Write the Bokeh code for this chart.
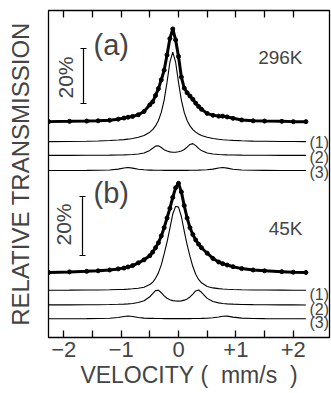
import math
from bokeh.plotting import figure
from bokeh.models import Range1d, LinearAxis, FixedTicker, Label
from bokeh.embed import file_html
from bokeh.resources import INLINE

# ---------------- data (absorption depths in %) ----------------
velocity = [-2.26, -1.9, -1.6, -1.4, -1.2, -1.05, -0.95, -0.88, -0.8, -0.7, -0.6, -0.5, -0.45, -0.4,
            -0.35, -0.3, -0.25, -0.2, -0.15, -0.1, -0.05, 0.0, 0.05, 0.1, 0.15, 0.2, 0.25, 0.3, 0.35,
            0.4, 0.5, 0.6, 0.7, 0.77, 0.85, 0.95, 1.1, 1.3, 1.5, 1.8, 2.0, 2.22]

# (a) 296 K
a_data = [0.3, 0.4, 0.5, 0.6, 0.8, 1.2, 1.6, 1.9, 2.2, 2.8, 4.0, 6.4, 7.5, 9.8, 12.3, 15.5, 19.0, 24.5,
          30.5, 34.0, 30.0, 24.0, 16.5, 12.5, 10.8, 9.6, 8.4, 7.0, 5.8, 4.8, 3.3, 2.6, 2.3, 2.3, 2.0,
          1.5, 0.9, 0.6, 0.5, 0.4, 0.3, 0.3]
a_sub1 = [0.14, 0.20, 0.28, 0.38, 0.52, 0.70, 0.86, 1.02, 1.26, 1.69, 2.38, 3.57, 4.51, 5.85, 7.80,
          10.76, 15.22, 21.66, 29.0, 32.7, 29.0, 21.66, 15.22, 10.76, 7.80, 5.85, 4.51, 3.57, 2.89,
          2.38, 1.69, 1.26, 0.97, 0.83, 0.70, 0.57, 0.44, 0.32, 0.25, 0.18, 0.15, 0.12]
a_sub2 = [0.03, 0.04, 0.06, 0.08, 0.12, 0.16, 0.21, 0.26, 0.35, 0.54, 0.92, 1.83, 2.61, 3.40, 3.51,
          2.87, 2.11, 1.59, 1.30, 1.18, 1.18, 1.33, 1.64, 2.18, 3.04, 4.01, 4.31, 3.58, 2.56, 1.76,
          0.91, 0.55, 0.36, 0.28, 0.22, 0.17, 0.12, 0.08, 0.06, 0.04, 0.03, 0.02]
a_sub3 = [0.02, 0.03, 0.06, 0.10, 0.23, 0.53, 0.93, 1.11, 0.89, 0.49, 0.28, 0.18, 0.15, 0.13, 0.11,
          0.10, 0.09, 0.09, 0.08, 0.08, 0.08, 0.08, 0.08, 0.09, 0.09, 0.10, 0.12, 0.14, 0.16, 0.19,
          0.28, 0.53, 0.93, 1.11, 0.89, 0.49, 0.22, 0.10, 0.06, 0.03, 0.02, 0.02]

# (b) 45 K
b_data = [0.2, 0.4, 0.6, 0.8, 1.1, 1.5, 1.8, 2.2, 2.7, 3.7, 4.8, 6.3, 7.6, 9.2, 11.0, 13.5, 16.5, 20.0,
          23.5, 27.5, 31.0, 32.6, 29.5, 24.5, 20.0, 16.5, 14.0, 12.0, 10.5, 9.2, 7.2, 5.3, 4.0, 3.4,
          2.9, 2.3, 1.6, 1.1, 0.8, 0.5, 0.3, 0.2]
b_sub1 = [0.08, 0.11, 0.15, 0.19, 0.25, 0.34, 0.40, 0.49, 0.62, 0.80, 1.17, 2.13, 3.0, 4.42, 6.4, 9.3,
          13.3, 17.6, 22.6, 27.8, 30.6, 30.3, 26.9, 21.6, 16.7, 12.4, 8.7, 5.9, 4.0, 2.8, 1.42, 0.93,
          0.68, 0.56, 0.46, 0.37, 0.28, 0.20, 0.15, 0.11, 0.09, 0.08]
b_sub2 = [0.05, 0.07, 0.10, 0.13, 0.19, 0.27, 0.35, 0.44, 0.59, 0.90, 1.55, 2.99, 4.15, 5.25, 5.41,
          4.48, 3.33, 2.47, 1.93, 1.61, 1.46, 1.43, 1.53, 1.78, 2.23, 2.95, 4.01, 5.12, 5.46, 4.65,
          2.43, 1.30, 0.79, 0.59, 0.44, 0.32, 0.22, 0.15, 0.11, 0.07, 0.06, 0.04]
b_sub3 = [0.02, 0.03, 0.05, 0.09, 0.21, 0.48, 0.85, 1.01, 0.81, 0.45, 0.26, 0.16, 0.14, 0.12, 0.10,
          0.09, 0.08, 0.08, 0.07, 0.07, 0.07, 0.07, 0.07, 0.07, 0.08, 0.08, 0.09, 0.10, 0.12, 0.14,
          0.21, 0.36, 0.65, 0.92, 0.97, 0.61, 0.25, 0.11, 0.06, 0.03, 0.02, 0.02]

tick_values = [-2, -1.5, -1, -0.5, 0, 0.5, 1, 1.5, 2]
tick_labels = {-2: "\u22122", -1.5: "", -1: "\u22121", -0.5: "", 0: "0", 0.5: "", 1: "+1", 1.5: "", 2: "+2"}
component_names = ["(1)", "(2)", "(3)"]

# vertical offsets (baselines) of the stacked spectra, in % units
base_a = [78.2, 71.1, 66.2, 60.7]
base_b = [23.45, 17.1, 11.8, 6.8]

FONT = "Liberation Sans"
NB = "\u00a0"

# helpers converting picture pixel positions to data coords (for annotation placement)
def vx(px):
    return (px - 178.0) / 57.4

def vy(py):
    return (337.0 - py) / 2.75

p = figure(width=331, height=393, x_range=Range1d(vx(48), vx(329)), y_range=Range1d(vy(337), vy(10)),
           output_backend="svg", toolbar_location=None,
           min_border_left=48, min_border_right=2, min_border_top=10, min_border_bottom=56)
p.grid.visible = False
p.outline_line_color = "black"
p.outline_line_width = 1.3
p.background_fill_color = "white"
p.border_fill_color = "white"

# bottom axis
xa = p.xaxis[0]
xa.ticker = FixedTicker(ticks=tick_values)
xa.major_label_overrides = tick_labels
xa.major_tick_in = 7
xa.major_tick_out = 0
xa.minor_tick_line_color = None
xa.axis_line_color = None
xa.major_tick_line_width = 1.3
xa.major_label_text_font = FONT
xa.major_label_text_font_size = "22px"
xa.major_label_standoff = 4
xa.axis_label = "VELOCITY" + NB + "(" + NB + NB + "mm/s" + NB + NB + ")"
xa.axis_label_text_font = FONT
xa.axis_label_text_font_style = "normal"
xa.axis_label_text_font_size = "23px"
xa.axis_label_standoff = 2

# top axis (ticks only)
top = LinearAxis(ticker=FixedTicker(ticks=tick_values), major_tick_in=7, major_tick_out=0,
                 minor_tick_line_color=None, axis_line_color=None, major_tick_line_width=1.3,
                 major_label_overrides={t: "" for t in tick_values}, major_label_standoff=0)
p.add_layout(top, "above")

# left axis (label only)
ya = p.yaxis[0]
ya.ticker = FixedTicker(ticks=[])
ya.axis_line_color = None
ya.major_tick_line_color = None
ya.minor_tick_line_color = None
ya.major_label_standoff = 0
ya.axis_label = "RELATIVE TRANSMISSION"
ya.axis_label_text_font = FONT
ya.axis_label_text_font_style = "normal"
ya.axis_label_text_font_size = "24px"
ya.axis_label_standoff = 15

# ---- curves (absorption plotted upward from each baseline) ----
def draw(depths, base, data=False):
    ys = [base + d for d in depths]
    if data:
        p.line(velocity, ys, line_color="black", line_width=3.0)
        p.scatter(velocity, ys, size=4, color="black")
    else:
        p.line(velocity, ys, line_color="black", line_width=1.1)

draw(a_data, base_a[0], True)
for sub, b in zip([a_sub1, a_sub2, a_sub3], base_a[1:]):
    draw(sub, b)
draw(b_data, base_b[0], True)
for sub, b in zip([b_sub1, b_sub2, b_sub3], base_b[1:]):
    draw(sub, b)

# component labels
for name, py in zip(component_names, [142, 157, 172]):
    p.add_layout(Label(x=vx(309), y=vy(py), text=name, text_font=FONT, text_font_size="16px",
                       text_baseline="middle", text_align="left"))
for name, py in zip(component_names, [294, 309, 322]):
    p.add_layout(Label(x=vx(309), y=vy(py), text=name, text_font=FONT, text_font_size="16px",
                       text_baseline="middle", text_align="left"))

# panel labels
p.add_layout(Label(x=vx(93), y=vy(44), text="(a)", text_font=FONT, text_font_size="29px",
                   text_baseline="middle", text_align="left"))
p.add_layout(Label(x=vx(93), y=vy(192), text="(b)", text_font=FONT, text_font_size="29px",
                   text_baseline="middle", text_align="left"))
p.add_layout(Label(x=vx(302), y=vy(57), text="296K", text_font=FONT, text_font_size="19px",
                   text_baseline="middle", text_align="right"))
p.add_layout(Label(x=vx(302), y=vy(228), text="45K", text_font=FONT, text_font_size="19px",
                   text_baseline="middle", text_align="right"))

# 20% scale bars
for xb, y0, y1, tx, ty in [(83, 103, 48, 65, 77), (82, 255, 196, 63, 224)]:
    p.segment(x0=[vx(xb)], y0=[vy(y0)], x1=[vx(xb)], y1=[vy(y1)], line_color="black", line_width=1.2)
    p.segment(x0=[vx(xb - 3), vx(xb - 3)], y0=[vy(y0), vy(y1)], x1=[vx(xb + 3), vx(xb + 3)],
              y1=[vy(y0), vy(y1)], line_color="black", line_width=1.2)
    p.add_layout(Label(x=vx(tx), y=vy(ty), text="20%", angle=math.pi / 2, text_font=FONT,
                       text_font_size="21px", text_baseline="middle", text_align="center"))

open("out.html", "w").write(file_html(p, INLINE))
